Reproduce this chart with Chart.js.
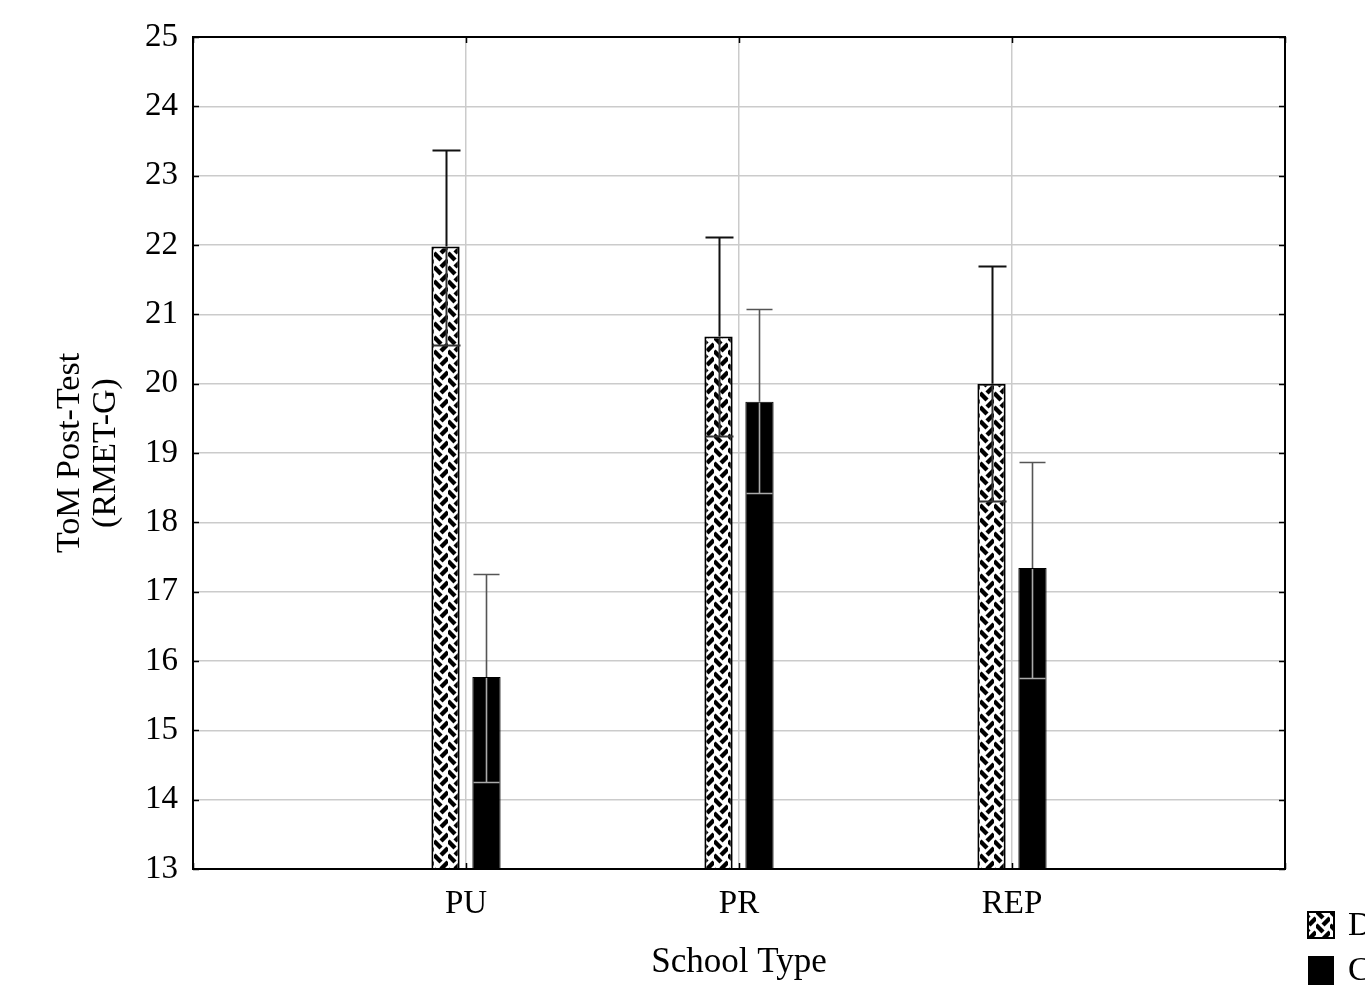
<!DOCTYPE html>
<html>
<head>
<meta charset="utf-8">
<script src="https://cdn.jsdelivr.net/npm/chart.js@4.4.0/dist/chart.umd.min.js"></script>
<style>
  html, body { margin: 0; padding: 0; background: #fff; }
  #chart { display: block; }
</style>
</head>
<body>
<canvas id="chart" width="1365" height="1008"></canvas>
<script>
// Chart data
const categories = ['', 'PU', 'PR', 'REP', ''];
const seriesNames = ['D', 'C'];
const dMeans = [null, 21.98, 20.68, 20.0, null];
const dUpper = [null, 23.37, 22.12, 21.69, null];
const dLower = [null, 20.56, 19.24, 18.31, null];
const cMeans = [null, 15.77, 19.74, 17.34, null];
const cUpper = [null, 17.26, 21.07, 18.87, null];
const cLower = [null, 14.26, 18.42, 15.76, null];
const yTicks = [13, 14, 15, 16, 17, 18, 19, 20, 21, 22, 23, 24, 25];

const serif = 'Liberation Serif, Times New Roman, serif';

function makeBraid() {
    const c = document.createElement('canvas');
    c.width = 14; c.height = 14;
    const g = c.getContext('2d');
    g.fillStyle = '#fff';
    g.fillRect(0, 0, 14, 14);
    g.strokeStyle = '#000';
    g.lineWidth = 4.4;
    g.lineCap = 'butt';
    // left column "\" strokes
    for (const oy of [-14, 0, 14]) {
        g.beginPath(); g.moveTo(0, 1 + oy); g.lineTo(7, 8 + oy); g.stroke();
    }
    // right column "/" strokes, shifted half a tile
    for (const oy of [-14, 0, 14]) {
        g.beginPath(); g.moveTo(14, 8 + oy); g.lineTo(7, 15 + oy); g.stroke();
    }
    return g.createPattern(c, 'repeat');
}

const braid = makeBraid();

// Error bars + frame + legend
const extras = {
    id: 'extras',
    afterDatasetsDraw(chart) {
        const ctx = chart.ctx;
        const y = chart.scales.y;
        const sets = [
            { upper: dUpper, lower: dLower, top: '#111', inner: '#333', w: 2, cap: 28 },
            { upper: cUpper, lower: cLower, top: '#555', inner: '#aaa', w: 1.6, cap: 26 }
        ];
        sets.forEach((s, di) => {
            const meta = chart.getDatasetMeta(di);
            meta.data.forEach((bar, i) => {
                const v = chart.data.datasets[di].data[i];
                if (v === null) return;
                const x = Math.round(bar.x) + 0.5;
                const yv = y.getPixelForValue(v);
                const yu = Math.round(y.getPixelForValue(s.upper[i])) + 0.5;
                const yl = Math.round(y.getPixelForValue(s.lower[i])) + 0.5;
                ctx.save();
                ctx.lineWidth = s.w;
                ctx.strokeStyle = s.top;
                ctx.beginPath();
                ctx.moveTo(x, yv); ctx.lineTo(x, yu);
                ctx.moveTo(x - s.cap / 2, yu); ctx.lineTo(x + s.cap / 2, yu);
                ctx.stroke();
                ctx.strokeStyle = s.inner;
                ctx.beginPath();
                ctx.moveTo(x, yv + 1); ctx.lineTo(x, yl);
                ctx.moveTo(x - s.cap / 2, yl); ctx.lineTo(x + s.cap / 2, yl);
                ctx.stroke();
                ctx.restore();
            });
        });
    },
    afterDraw(chart) {
        const ctx = chart.ctx;
        const a = chart.chartArea;
        ctx.save();
        ctx.strokeStyle = '#000';
        ctx.lineWidth = 2;
        ctx.strokeRect(a.left, a.top, a.right - a.left, a.bottom - a.top);
        // inward tick marks
        ctx.lineWidth = 1.5;
        ctx.beginPath();
        chart.scales.y.ticks.forEach(t => {
            const py = Math.round(chart.scales.y.getPixelForValue(t.value)) + 0.5;
            ctx.moveTo(a.left, py); ctx.lineTo(a.left + 6, py);
            ctx.moveTo(a.right, py); ctx.lineTo(a.right - 6, py);
        });
        chart.scales.x.ticks.forEach((t, i) => {
            const px = Math.round(chart.scales.x.getPixelForTick(i)) + 0.5;
            ctx.moveTo(px, a.top); ctx.lineTo(px, a.top + 6);
            ctx.moveTo(px, a.bottom); ctx.lineTo(px, a.bottom - 6);
        });
        ctx.stroke();

        // legend (cut by the right edge like the reference)
        ctx.lineWidth = 2;
        ctx.fillStyle = braid;
        ctx.fillRect(1308, 912, 26, 26);
        ctx.strokeRect(1308, 912, 26, 26);
        ctx.fillStyle = '#000';
        ctx.fillRect(1308, 956, 26, 29);
        ctx.font = '34px ' + serif;
        ctx.textBaseline = 'middle';
        ctx.textAlign = 'left';
        ctx.fillText(seriesNames[0], 1348, 926);
        ctx.fillText(seriesNames[1], 1348, 971);
        ctx.restore();
    }
};

const tickFont = { family: serif, size: 33 };

new Chart(document.getElementById('chart').getContext('2d'), {
    type: 'bar',
    data: {
        labels: categories,
        datasets: [
            {
                label: seriesNames[0],
                data: dMeans,
                backgroundColor: braid,
                borderColor: '#000',
                borderWidth: 2,
                borderSkipped: false,
                barPercentage: 0.69,
                categoryPercentage: 0.3
            },
            {
                label: seriesNames[1],
                data: cMeans,
                backgroundColor: '#000',
                borderColor: '#000',
                borderWidth: 1,
                borderSkipped: false,
                barPercentage: 0.69,
                categoryPercentage: 0.3
            }
        ]
    },
    options: {
        responsive: false,
        animation: false,
        layout: { padding: { top: 37, right: 80, left: 0, bottom: 0 } },
        plugins: {
            legend: { display: false },
            tooltip: { enabled: false }
        },
        scales: {
            x: {
                offset: false,
                grid: { offset: false, color: '#cbcbcb', lineWidth: 1.5, drawTicks: false },
                border: { display: false },
                ticks: { color: '#000', font: tickFont, padding: 16, autoSkip: false, maxRotation: 0 },
                title: {
                    display: true,
                    text: 'School Type',
                    color: '#000',
                    font: { family: serif, size: 35 },
                    padding: { top: 0, bottom: 24 }
                },
                afterFit: s => { s.height = 139; }
            },
            y: {
                min: yTicks[0],
                max: yTicks[yTicks.length - 1],
                afterBuildTicks: s => { s.ticks = yTicks.map(v => ({ value: v })); },
                grid: { color: '#cbcbcb', lineWidth: 1.5, drawTicks: false },
                border: { display: false },
                ticks: { color: '#000', font: tickFont, padding: 15 },
                title: {
                    display: true,
                    text: ['ToM Post-Test', '(RMET-G)'],
                    color: '#000',
                    font: { family: serif, size: 34, lineHeight: 1.06 },
                    padding: { top: 52, bottom: 0 }
                },
                afterFit: s => { s.width = 193; }
            }
        }
    },
    plugins: [extras]
});
</script>
</body>
</html>
